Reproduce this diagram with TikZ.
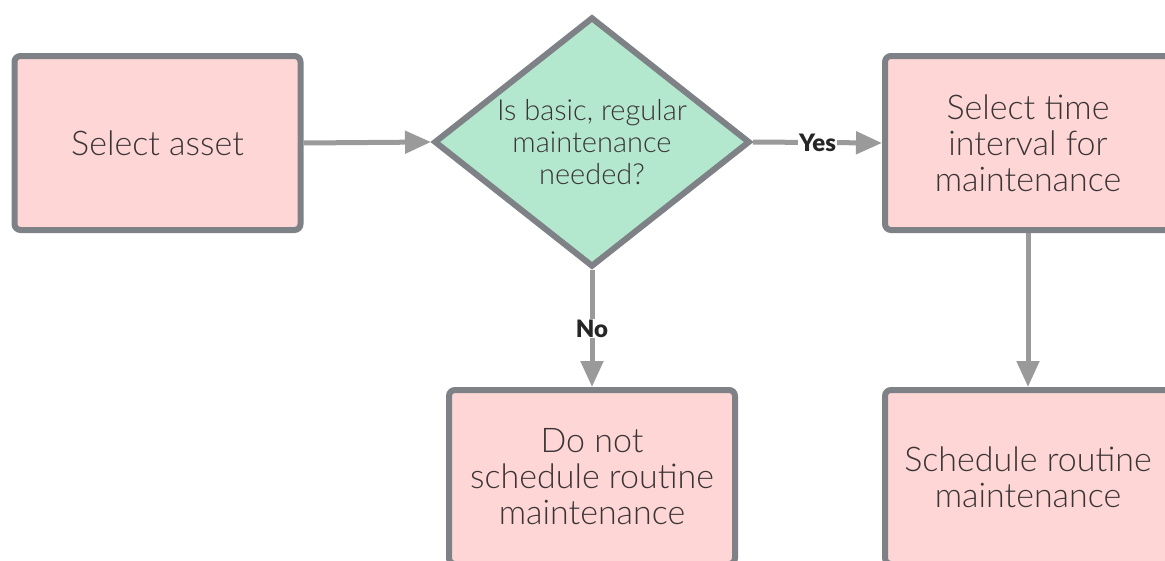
\documentclass[tikz,border=0pt]{standalone}
\usepackage{fontspec}
\setmainfont{Lato Light}
\newfontfamily\heavyfont{Lato Black}
\usetikzlibrary{shapes.geometric,arrows.meta}
\definecolor{boxfill}{HTML}{FFD6D6}
\definecolor{decfill}{HTML}{B3E8CE}
\definecolor{bordergray}{HTML}{7E8286}
\definecolor{arrowgray}{HTML}{9A9A9A}
\definecolor{txt}{HTML}{3A3435}
\tikzset{
  stepbox/.style={draw=bordergray, fill=boxfill, line width=6pt, rounded corners=6pt,
    minimum width=286pt, minimum height=174pt, align=center, text=txt,
    font=\fontsize{34}{36}\selectfont, inner sep=0pt},
  decision/.style={diamond, aspect=1.27, draw=bordergray, fill=decfill, line width=6pt,
    minimum width=316pt, minimum height=250pt, align=center, text=txt,
    font=\fontsize{29}{32}\selectfont, inner sep=0pt},
  conn/.style={draw=arrowgray, line width=5pt, -{Triangle[length=26pt,width=22pt]}},
  lbl/.style={fill=white, text=black!85, font=\heavyfont\fontsize{24}{26}\selectfont, inner sep=1pt}
}
\begin{document}
\begin{tikzpicture}[x=1pt,y=-1pt]
\useasboundingbox (0,0) rectangle (1165,560);
\begin{scope}
\clip (0,0) rectangle (1165,560);
\node[stepbox] (asset) at (157.5,143) {Select asset};
\node[decision] (dec) at (592,142) {Is basic, regular\\maintenance\\needed?};
\node[stepbox] (interval) at (1028,143) {Select time\\interval for\\maintenance};
\node[stepbox] (donot) at (592,477) {Do not\\schedule routine\\maintenance};
\node[stepbox] (sched) at (1028,477) {Schedule routine\\maintenance};
\draw[conn] (asset.east) -- (dec.west);
\draw[conn] (dec.east) -- node[lbl, pos=0.5] {Yes} (interval.west);
\draw[conn] (dec.south) -- node[lbl, pos=0.5] {No} (donot.north);
\draw[conn] (interval.south) -- (sched.north);
\end{scope}
\end{tikzpicture}
\end{document}
